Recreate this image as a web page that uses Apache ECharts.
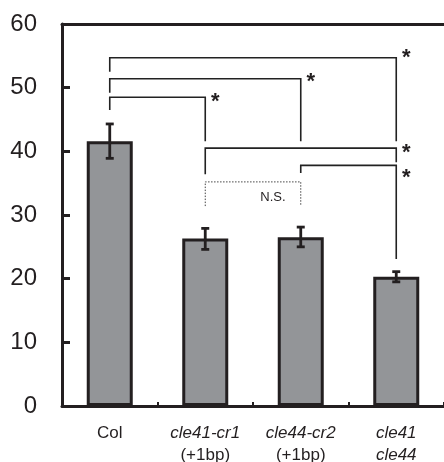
<!DOCTYPE html>
<html><head><meta charset="utf-8">
<script src="https://cdn.jsdelivr.net/npm/echarts@6/dist/echarts.min.js"></script>
<style>html,body{margin:0;padding:0;background:#fff}#c{width:444px;height:462px}</style>
</head><body><div id="c"></div>
<script>
const categories = ['Col', 'cle41-cr1', 'cle44-cr2', 'cle41 cle44'];
const labelLine1 = ['Col', 'cle41-cr1', 'cle44-cr2', 'cle41'];
const labelLine2 = ['', '(+1bp)', '(+1bp)', 'cle44'];
const line1Italic = [false, true, true, true];
const line2Italic = [false, false, false, true];
const means = [41.6, 26.3, 26.5, 20.3];
const errLow = [38.9, 24.6, 25.0, 19.5];
const errHigh = [44.3, 27.9, 28.1, 21.1];
const yTicks = [0, 10, 20, 30, 40, 50, 60];
// significance brackets
const bracketFrom = [0, 0, 0, 1, 2, 1];
const bracketTo = [1, 2, 3, 3, 3, 2];
const bracketLevel = [48.5, 51.4, 54.7, 40.5, 37.8, 35.2];
const bracketLeftEnd = [46.5, 49.2, 52.5, 36.4, 36.6, 31.4];
const bracketRightEnd = [41.6, 41.6, 41.6, 38.3, 23.1, 31.4];
const bracketDotted = [false, false, false, false, false, true];
const starCat = [1, 2, 3, 3, 3];
const starValue = [48.4, 51.5, 55.3, 40.4, 36.4];
const nsText = 'N.S.';
const nsValue = 32.8;

const chart = echarts.init(document.getElementById('c'), null, {renderer: 'canvas'});
const dark = '#231f20';
const FONT = '"Liberation Sans", Arial, sans-serif';

const bracketData = bracketFrom.map((f, i) => [f, bracketTo[i], bracketLevel[i], bracketLeftEnd[i], bracketRightEnd[i], bracketDotted[i] ? 1 : 0]);
const errData = means.map((m, i) => [i, errLow[i], errHigh[i]]);
const starData = starCat.map((c, i) => [c, starValue[i]]);

chart.setOption({
  animation: false,
  backgroundColor: '#fff',
  grid: {left: 62, top: 24, width: 386, height: 382},
  xAxis: [{
    type: 'category', data: categories, position: 'bottom',
    axisLine: {lineStyle: {color: dark, width: 3}},
    axisTick: {show: true, inside: true, length: 4, interval: 0, lineStyle: {color: dark, width: 2}},
    axisLabel: {show: false}
  }, {
    type: 'category', data: categories, position: 'top',
    axisLine: {show: true, lineStyle: {color: dark, width: 3}},
    axisTick: {show: false}, axisLabel: {show: false}
  }],
  yAxis: {
    type: 'value', min: 0, max: 60, interval: 10,
    axisLine: {show: true, lineStyle: {color: dark, width: 3}},
    axisTick: {show: true, inside: true, length: 8, lineStyle: {color: dark, width: 3}},
    splitLine: {show: false},
    axisLabel: {
      margin: 25, fontFamily: FONT, fontSize: 24, color: dark,
      formatter: v => yTicks.includes(v) ? String(v) : ''
    }
  },
  series: [{
    type: 'bar', data: means, barWidth: 46,
    itemStyle: {color: '#939598', borderColor: dark, borderWidth: 3},
    z: 2
  }, {
    type: 'custom', data: errData, z: 5,
    renderItem: (params, api) => {
      const x = api.coord([api.value(0), 0])[0];
      const yl = api.coord([api.value(0), api.value(1)])[1];
      const yh = api.coord([api.value(0), api.value(2)])[1];
      const w = 4;
      const st = {stroke: dark, lineWidth: 2.8};
      return {type: 'group', children: [
        {type: 'line', shape: {x1: x, y1: yl, x2: x, y2: yh}, style: st},
        {type: 'line', shape: {x1: x - w, y1: yl, x2: x + w, y2: yl}, style: st},
        {type: 'line', shape: {x1: x - w, y1: yh, x2: x + w, y2: yh}, style: st}
      ]};
    }
  }, {
    type: 'custom', data: bracketData, z: 4,
    renderItem: (params, api) => {
      const x1 = api.coord([api.value(0), 0])[0];
      const x2 = api.coord([api.value(1), 0])[0];
      const yt = api.coord([0, api.value(2)])[1];
      const yl = api.coord([0, api.value(3)])[1];
      const yr = api.coord([0, api.value(4)])[1];
      const dotted = api.value(5) === 1;
      return {
        type: 'polyline',
        shape: {points: [[x1, yl], [x1, yt], [x2, yt], [x2, yr]]},
        style: {fill: null, stroke: dotted ? '#444' : '#222', lineWidth: dotted ? 1 : 1.6,
                lineDash: dotted ? [1.5, 1.5] : null}
      };
    }
  }, {
    type: 'custom', data: starData, z: 6,
    renderItem: (params, api) => {
      const p = api.coord([api.value(0), api.value(1)]);
      return {
        type: 'text', x: p[0] + 10, y: p[1] - 7,
        style: {text: '*', font: 'bold 22px ' + FONT, fill: dark, textAlign: 'center', textVerticalAlign: 'top'}
      };
    }
  }, {
    type: 'custom', data: [[1.5, nsValue]], z: 6,
    renderItem: (params, api) => {
      const a = api.coord([1, api.value(1)]);
      const b = api.coord([2, api.value(1)]);
      return {
        type: 'text', x: (a[0] + b[0]) / 2 + 20, y: a[1],
        style: {text: nsText, font: '13px ' + FONT, fill: dark, textAlign: 'center', textVerticalAlign: 'middle'}
      };
    }
  }, {
    type: 'custom', data: categories.map((c, i) => [i, 0]), z: 6, clip: false,
    renderItem: (params, api) => {
      const i = params.dataIndex;
      const p = api.coord([api.value(0), 0]);
      return {type: 'group', children: [
        {type: 'text', x: p[0], y: p[1] + 27,
         style: {text: labelLine1[i], font: (line1Italic[i] ? 'italic ' : '') + '17px ' + FONT,
                 fill: dark, textAlign: 'center', textVerticalAlign: 'middle'}},
        {type: 'text', x: p[0], y: p[1] + 49,
         style: {text: labelLine2[i], font: (line2Italic[i] ? 'italic ' : '') + '17px ' + FONT,
                 fill: dark, textAlign: 'center', textVerticalAlign: 'middle'}}
      ]};
    }
  }]
});
</script>
</body></html>
